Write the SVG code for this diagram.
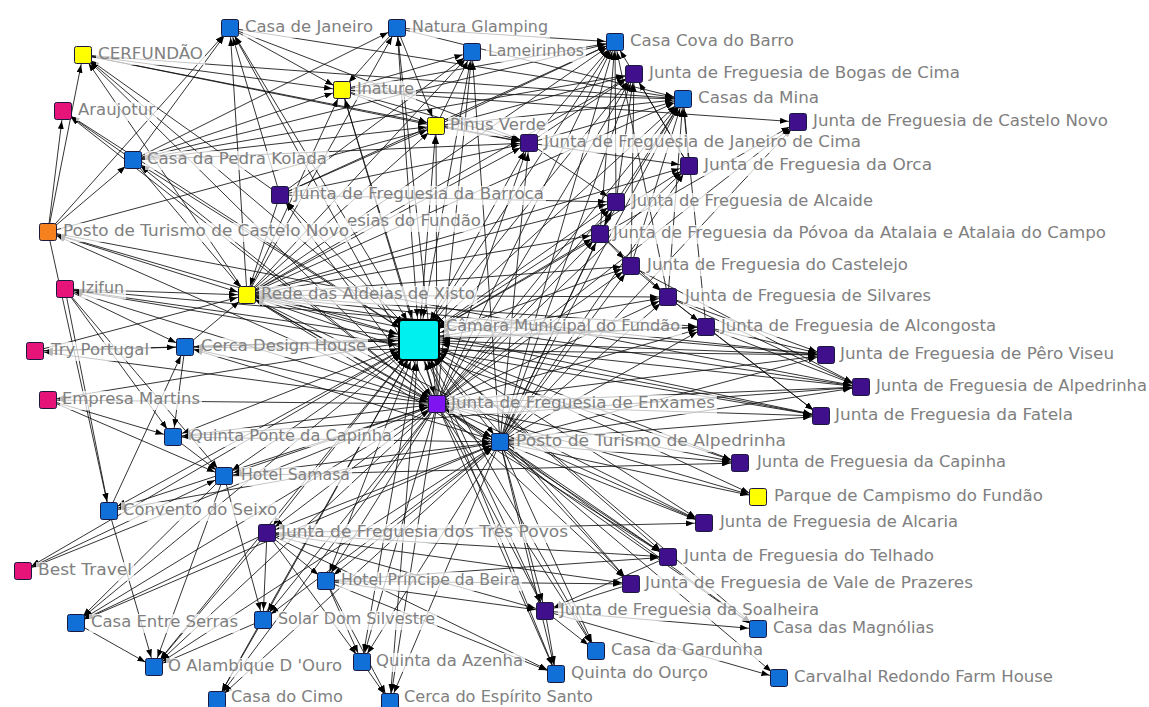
<svg xmlns="http://www.w3.org/2000/svg" width="1149" height="707" viewBox="0 0 1149 707">
<defs>
<style>
.ed line{stroke:#111;stroke-width:1;stroke-opacity:.85;fill:none}
.o line{marker-end:url(#a)}
.b line{marker-start:url(#a);marker-end:url(#a)}
.h line{marker-start:url(#c);marker-end:url(#a)}
.s{stroke:#1a1a40;stroke-width:1}
.bl{fill:#1070d8}
.pu{fill:#40108c}
.vi{fill:#8014f0}
.ye{fill:#ffff00}
.pk{fill:#e61478}
.or{fill:#f5821e}
.cy{fill:#00f0f0}
.lb{fill:#fff;fill-opacity:.72}
text{font-family:"DejaVu Sans","Liberation Sans",sans-serif;font-size:15.5px;fill:#808080}
</style>
<marker id="a" viewBox="0 0 8 6" refX="18" refY="3" markerWidth="8" markerHeight="6" markerUnits="userSpaceOnUse" orient="auto-start-reverse"><path d="M0,0L8,3L0,6z" fill="#000"/></marker>
<marker id="c" viewBox="0 0 8 6" refX="31" refY="3" markerWidth="8" markerHeight="6" markerUnits="userSpaceOnUse" orient="auto-start-reverse"><path d="M0,0L8,3L0,6z" fill="#000"/></marker>
</defs>
<rect x="0" y="0" width="1149" height="707" fill="#fff"/>
<g id="connectors" class="ed">
<g class="h">
<line x1="419" y1="340" x2="230" y2="28"/><line x1="419" y1="340" x2="397" y2="28"/><line x1="419" y1="340" x2="83" y2="55"/><line x1="419" y1="340" x2="472" y2="52"/><line x1="419" y1="340" x2="615" y2="42"/><line x1="419" y1="340" x2="634" y2="74"/><line x1="419" y1="340" x2="342" y2="90"/><line x1="419" y1="340" x2="63" y2="111"/><line x1="419" y1="340" x2="683" y2="99"/><line x1="419" y1="340" x2="436" y2="126"/><line x1="419" y1="340" x2="798" y2="122"/><line x1="419" y1="340" x2="529" y2="143"/><line x1="419" y1="340" x2="133" y2="160"/><line x1="419" y1="340" x2="689" y2="166"/><line x1="419" y1="340" x2="280" y2="195"/><line x1="419" y1="340" x2="616" y2="202"/><line x1="419" y1="340" x2="600" y2="234"/><line x1="419" y1="340" x2="48" y2="232"/><line x1="419" y1="340" x2="631" y2="266"/><line x1="419" y1="340" x2="65" y2="289"/><line x1="419" y1="340" x2="247" y2="295"/><line x1="419" y1="340" x2="668" y2="297"/><line x1="419" y1="340" x2="706" y2="327"/><line x1="419" y1="340" x2="35" y2="351"/><line x1="419" y1="340" x2="185" y2="347"/><line x1="419" y1="340" x2="826" y2="355"/><line x1="419" y1="340" x2="861" y2="387"/><line x1="419" y1="340" x2="48" y2="400"/><line x1="419" y1="340" x2="437" y2="404"/><line x1="419" y1="340" x2="821" y2="416"/><line x1="419" y1="340" x2="173" y2="437"/><line x1="419" y1="340" x2="500" y2="442"/><line x1="419" y1="340" x2="740" y2="463"/><line x1="419" y1="340" x2="224" y2="476"/><line x1="419" y1="340" x2="758" y2="497"/><line x1="419" y1="340" x2="109" y2="511"/><line x1="419" y1="340" x2="704" y2="523"/><line x1="419" y1="340" x2="267" y2="533"/><line x1="419" y1="340" x2="668" y2="557"/><line x1="419" y1="340" x2="23" y2="571"/><line x1="419" y1="340" x2="326" y2="581"/><line x1="419" y1="340" x2="631" y2="584"/><line x1="419" y1="340" x2="545" y2="611"/><line x1="419" y1="340" x2="76" y2="623"/><line x1="419" y1="340" x2="263" y2="620"/><line x1="419" y1="340" x2="758" y2="629"/><line x1="419" y1="340" x2="596" y2="651"/><line x1="419" y1="340" x2="154" y2="667"/><line x1="419" y1="340" x2="362" y2="662"/><line x1="419" y1="340" x2="556" y2="674"/><line x1="419" y1="340" x2="217" y2="700"/><line x1="419" y1="340" x2="390" y2="702"/>
</g>
<g class="o">
<line x1="437" y1="404" x2="826" y2="355"/><line x1="437" y1="404" x2="861" y2="387"/><line x1="437" y1="404" x2="821" y2="416"/><line x1="437" y1="404" x2="740" y2="463"/><line x1="437" y1="404" x2="758" y2="497"/><line x1="437" y1="404" x2="704" y2="523"/><line x1="437" y1="404" x2="668" y2="557"/><line x1="437" y1="404" x2="631" y2="584"/><line x1="437" y1="404" x2="545" y2="611"/><line x1="437" y1="404" x2="668" y2="297"/><line x1="437" y1="404" x2="706" y2="327"/><line x1="437" y1="404" x2="631" y2="266"/><line x1="437" y1="404" x2="600" y2="234"/><line x1="437" y1="404" x2="616" y2="202"/><line x1="437" y1="404" x2="689" y2="166"/><line x1="437" y1="404" x2="529" y2="143"/><line x1="437" y1="404" x2="683" y2="99"/><line x1="437" y1="404" x2="615" y2="42"/><line x1="437" y1="404" x2="634" y2="74"/><line x1="437" y1="404" x2="472" y2="52"/><line x1="437" y1="404" x2="436" y2="126"/><line x1="437" y1="404" x2="342" y2="90"/><line x1="437" y1="404" x2="230" y2="28"/><line x1="437" y1="404" x2="397" y2="28"/><line x1="437" y1="404" x2="83" y2="55"/><line x1="437" y1="404" x2="596" y2="651"/><line x1="437" y1="404" x2="556" y2="674"/><line x1="437" y1="404" x2="758" y2="629"/><line x1="437" y1="404" x2="390" y2="702"/><line x1="437" y1="404" x2="217" y2="700"/><line x1="437" y1="404" x2="362" y2="662"/><line x1="437" y1="404" x2="154" y2="667"/><line x1="437" y1="404" x2="263" y2="620"/><line x1="437" y1="404" x2="326" y2="581"/><line x1="437" y1="404" x2="109" y2="511"/><line x1="437" y1="404" x2="48" y2="400"/><line x1="437" y1="404" x2="35" y2="351"/><line x1="437" y1="404" x2="65" y2="289"/><line x1="437" y1="404" x2="76" y2="623"/><line x1="437" y1="404" x2="23" y2="571"/><line x1="437" y1="404" x2="63" y2="111"/><line x1="437" y1="404" x2="798" y2="122"/>
<line x1="500" y1="442" x2="740" y2="463"/><line x1="500" y1="442" x2="758" y2="497"/><line x1="500" y1="442" x2="704" y2="523"/><line x1="500" y1="442" x2="668" y2="557"/><line x1="500" y1="442" x2="631" y2="584"/><line x1="500" y1="442" x2="545" y2="611"/><line x1="500" y1="442" x2="596" y2="651"/><line x1="500" y1="442" x2="556" y2="674"/><line x1="500" y1="442" x2="758" y2="629"/><line x1="500" y1="442" x2="821" y2="416"/><line x1="500" y1="442" x2="861" y2="387"/><line x1="500" y1="442" x2="826" y2="355"/><line x1="500" y1="442" x2="706" y2="327"/><line x1="500" y1="442" x2="668" y2="297"/><line x1="500" y1="442" x2="631" y2="266"/><line x1="500" y1="442" x2="600" y2="234"/><line x1="500" y1="442" x2="616" y2="202"/><line x1="500" y1="442" x2="529" y2="143"/><line x1="500" y1="442" x2="689" y2="166"/><line x1="500" y1="442" x2="683" y2="99"/><line x1="500" y1="442" x2="615" y2="42"/><line x1="500" y1="442" x2="634" y2="74"/><line x1="500" y1="442" x2="362" y2="662"/><line x1="500" y1="442" x2="390" y2="702"/><line x1="500" y1="442" x2="109" y2="511"/><line x1="500" y1="442" x2="217" y2="700"/><line x1="500" y1="442" x2="779" y2="678"/><line x1="500" y1="442" x2="472" y2="52"/><line x1="500" y1="442" x2="798" y2="122"/>
<line x1="247" y1="295" x2="529" y2="143"/><line x1="247" y1="295" x2="616" y2="202"/><line x1="247" y1="295" x2="600" y2="234"/><line x1="247" y1="295" x2="631" y2="266"/><line x1="247" y1="295" x2="668" y2="297"/><line x1="247" y1="295" x2="706" y2="327"/><line x1="247" y1="295" x2="826" y2="355"/><line x1="247" y1="295" x2="861" y2="387"/><line x1="247" y1="295" x2="821" y2="416"/><line x1="247" y1="295" x2="683" y2="99"/><line x1="247" y1="295" x2="615" y2="42"/><line x1="247" y1="295" x2="634" y2="74"/><line x1="247" y1="295" x2="689" y2="166"/><line x1="247" y1="295" x2="472" y2="52"/><line x1="247" y1="295" x2="436" y2="126"/><line x1="247" y1="295" x2="342" y2="90"/><line x1="247" y1="295" x2="230" y2="28"/><line x1="247" y1="295" x2="397" y2="28"/><line x1="247" y1="295" x2="83" y2="55"/><line x1="247" y1="295" x2="740" y2="463"/><line x1="247" y1="295" x2="668" y2="557"/><line x1="247" y1="295" x2="704" y2="523"/>
<line x1="48" y1="232" x2="247" y2="295"/><line x1="65" y1="289" x2="247" y2="295"/><line x1="133" y1="160" x2="247" y2="295"/><line x1="185" y1="347" x2="247" y2="295"/><line x1="280" y1="195" x2="247" y2="295"/><line x1="35" y1="351" x2="247" y2="295"/>
<line x1="616" y1="202" x2="600" y2="234"/><line x1="600" y1="234" x2="631" y2="266"/><line x1="631" y1="266" x2="668" y2="297"/><line x1="668" y1="297" x2="706" y2="327"/><line x1="706" y1="327" x2="826" y2="355"/><line x1="706" y1="327" x2="861" y2="387"/><line x1="706" y1="327" x2="821" y2="416"/><line x1="668" y1="297" x2="826" y2="355"/><line x1="668" y1="297" x2="861" y2="387"/><line x1="668" y1="297" x2="821" y2="416"/><line x1="631" y1="266" x2="861" y2="387"/><line x1="600" y1="234" x2="668" y2="297"/>
<line x1="529" y1="143" x2="615" y2="42"/><line x1="529" y1="143" x2="683" y2="99"/><line x1="529" y1="143" x2="634" y2="74"/><line x1="529" y1="143" x2="689" y2="166"/><line x1="529" y1="143" x2="616" y2="202"/><line x1="689" y1="166" x2="683" y2="99"/><line x1="689" y1="166" x2="615" y2="42"/><line x1="689" y1="166" x2="634" y2="74"/><line x1="616" y1="202" x2="615" y2="42"/><line x1="616" y1="202" x2="683" y2="99"/><line x1="616" y1="202" x2="634" y2="74"/><line x1="600" y1="234" x2="683" y2="99"/><line x1="600" y1="234" x2="615" y2="42"/><line x1="631" y1="266" x2="683" y2="99"/><line x1="631" y1="266" x2="634" y2="74"/><line x1="668" y1="297" x2="683" y2="99"/><line x1="668" y1="297" x2="615" y2="42"/><line x1="706" y1="327" x2="683" y2="99"/>
<line x1="280" y1="195" x2="529" y2="143"/><line x1="280" y1="195" x2="83" y2="55"/><line x1="280" y1="195" x2="230" y2="28"/><line x1="280" y1="195" x2="436" y2="126"/><line x1="280" y1="195" x2="472" y2="52"/><line x1="280" y1="195" x2="615" y2="42"/><line x1="280" y1="195" x2="616" y2="202"/>
<line x1="436" y1="126" x2="529" y2="143"/><line x1="436" y1="126" x2="472" y2="52"/><line x1="436" y1="126" x2="683" y2="99"/><line x1="436" y1="126" x2="615" y2="42"/><line x1="342" y1="90" x2="436" y2="126"/><line x1="342" y1="90" x2="472" y2="52"/><line x1="342" y1="90" x2="615" y2="42"/><line x1="342" y1="90" x2="683" y2="99"/><line x1="342" y1="90" x2="798" y2="122"/><line x1="342" y1="90" x2="529" y2="143"/><line x1="397" y1="28" x2="342" y2="90"/><line x1="397" y1="28" x2="683" y2="99"/><line x1="397" y1="28" x2="615" y2="42"/><line x1="397" y1="28" x2="436" y2="126"/><line x1="230" y1="28" x2="342" y2="90"/><line x1="230" y1="28" x2="683" y2="99"/><line x1="230" y1="28" x2="529" y2="143"/><line x1="83" y1="55" x2="342" y2="90"/><line x1="83" y1="55" x2="529" y2="143"/><line x1="83" y1="55" x2="683" y2="99"/><line x1="83" y1="55" x2="436" y2="126"/>
<line x1="133" y1="160" x2="230" y2="28"/><line x1="133" y1="160" x2="397" y2="28"/><line x1="133" y1="160" x2="342" y2="90"/><line x1="133" y1="160" x2="436" y2="126"/><line x1="133" y1="160" x2="529" y2="143"/><line x1="133" y1="160" x2="63" y2="111"/><line x1="133" y1="160" x2="615" y2="42"/><line x1="133" y1="160" x2="634" y2="74"/>
<line x1="48" y1="232" x2="83" y2="55"/><line x1="48" y1="232" x2="230" y2="28"/><line x1="48" y1="232" x2="63" y2="111"/><line x1="48" y1="232" x2="634" y2="74"/><line x1="48" y1="232" x2="861" y2="387"/><line x1="48" y1="232" x2="109" y2="511"/><line x1="48" y1="232" x2="133" y2="160"/>
<line x1="65" y1="289" x2="185" y2="347"/><line x1="65" y1="289" x2="224" y2="476"/><line x1="65" y1="289" x2="173" y2="437"/><line x1="65" y1="289" x2="821" y2="416"/><line x1="65" y1="289" x2="826" y2="355"/><line x1="65" y1="289" x2="109" y2="511"/><line x1="35" y1="351" x2="185" y2="347"/><line x1="48" y1="400" x2="224" y2="476"/><line x1="48" y1="400" x2="173" y2="437"/><line x1="185" y1="347" x2="173" y2="437"/><line x1="109" y1="511" x2="185" y2="347"/><line x1="185" y1="347" x2="826" y2="355"/><line x1="185" y1="347" x2="706" y2="327"/><line x1="173" y1="437" x2="861" y2="387"/><line x1="173" y1="437" x2="224" y2="476"/>
<line x1="224" y1="476" x2="154" y2="667"/><line x1="224" y1="476" x2="76" y2="623"/><line x1="224" y1="476" x2="263" y2="620"/><line x1="224" y1="476" x2="740" y2="463"/><line x1="267" y1="533" x2="76" y2="623"/><line x1="267" y1="533" x2="154" y2="667"/><line x1="267" y1="533" x2="263" y2="620"/><line x1="267" y1="533" x2="326" y2="581"/><line x1="267" y1="533" x2="362" y2="662"/><line x1="267" y1="533" x2="545" y2="611"/><line x1="267" y1="533" x2="556" y2="674"/><line x1="267" y1="533" x2="668" y2="557"/><line x1="267" y1="533" x2="631" y2="584"/><line x1="267" y1="533" x2="704" y2="523"/>
<line x1="76" y1="623" x2="154" y2="667"/><line x1="263" y1="620" x2="217" y2="700"/><line x1="263" y1="620" x2="154" y2="667"/><line x1="362" y1="662" x2="390" y2="702"/><line x1="326" y1="581" x2="390" y2="702"/><line x1="326" y1="581" x2="362" y2="662"/><line x1="326" y1="581" x2="545" y2="611"/><line x1="326" y1="581" x2="556" y2="674"/><line x1="326" y1="581" x2="668" y2="557"/><line x1="326" y1="581" x2="631" y2="584"/>
<line x1="545" y1="611" x2="596" y2="651"/><line x1="545" y1="611" x2="556" y2="674"/><line x1="545" y1="611" x2="779" y2="678"/><line x1="545" y1="611" x2="758" y2="629"/><line x1="668" y1="557" x2="545" y2="611"/><line x1="631" y1="584" x2="545" y2="611"/><line x1="23" y1="571" x2="224" y2="476"/><line x1="109" y1="511" x2="154" y2="667"/>
</g>
<g class="b">
<line x1="437" y1="404" x2="48" y2="232"/><line x1="437" y1="404" x2="247" y2="295"/><line x1="437" y1="404" x2="185" y2="347"/><line x1="437" y1="404" x2="173" y2="437"/><line x1="437" y1="404" x2="224" y2="476"/><line x1="437" y1="404" x2="267" y2="533"/><line x1="437" y1="404" x2="280" y2="195"/><line x1="437" y1="404" x2="133" y2="160"/><line x1="437" y1="404" x2="500" y2="442"/>
<line x1="500" y1="442" x2="326" y2="581"/><line x1="500" y1="442" x2="267" y2="533"/><line x1="500" y1="442" x2="263" y2="620"/><line x1="500" y1="442" x2="224" y2="476"/><line x1="500" y1="442" x2="173" y2="437"/><line x1="500" y1="442" x2="185" y2="347"/><line x1="500" y1="442" x2="247" y2="295"/><line x1="500" y1="442" x2="154" y2="667"/><line x1="500" y1="442" x2="76" y2="623"/>
</g>
</g>
<g id="n-casa-janeiro"><rect class="lb" x="243" y="19" width="132" height="19"/><rect class="s bl" x="221.5" y="19.5" width="17" height="17" rx="2"/><text x="245" y="32" textLength="128" lengthAdjust="spacingAndGlyphs">Casa de Janeiro</text></g>
<g id="n-natura"><rect class="lb" x="410" y="19" width="140" height="19"/><rect class="s bl" x="388.5" y="19.5" width="17" height="17" rx="2"/><text x="412" y="32" textLength="136" lengthAdjust="spacingAndGlyphs">Natura Glamping</text></g>
<g id="n-cerfundao"><rect class="lb" x="96" y="46" width="109" height="19"/><rect class="s ye" x="74.5" y="46.5" width="17" height="17" rx="2"/><text x="98" y="59" textLength="105" lengthAdjust="spacingAndGlyphs">CERFUNDÃO</text></g>
<g id="n-lameirinhos"><rect class="lb" x="486" y="43" width="100" height="19"/><rect class="s bl" x="463.5" y="43.5" width="17" height="17" rx="2"/><text x="488" y="56" textLength="96" lengthAdjust="spacingAndGlyphs">Lameirinhos</text></g>
<g id="n-casa-cova"><rect class="lb" x="628" y="33" width="168" height="19"/><rect class="s bl" x="606.5" y="33.5" width="17" height="17" rx="2"/><text x="630" y="46" textLength="164" lengthAdjust="spacingAndGlyphs">Casa Cova do Barro</text></g>
<g id="n-jf-bogas"><rect class="lb" x="647" y="65" width="315" height="19"/><rect class="s pu" x="625.5" y="65.5" width="17" height="17" rx="2"/><text x="649" y="78" textLength="311" lengthAdjust="spacingAndGlyphs">Junta de Freguesia de Bogas de Cima</text></g>
<g id="n-inature"><rect class="lb" x="355" y="81" width="61" height="19"/><rect class="s ye" x="333.5" y="81.5" width="17" height="17" rx="2"/><text x="357" y="94" textLength="57" lengthAdjust="spacingAndGlyphs">Inature</text></g>
<g id="n-araujotur"><rect class="lb" x="76" y="102" width="81" height="19"/><rect class="s pk" x="54.5" y="102.5" width="17" height="17" rx="2"/><text x="78" y="115" textLength="77" lengthAdjust="spacingAndGlyphs">Araujotur</text></g>
<g id="n-casas-mina"><rect class="lb" x="696" y="90" width="125" height="19"/><rect class="s bl" x="674.5" y="90.5" width="17" height="17" rx="2"/><text x="698" y="103" textLength="121" lengthAdjust="spacingAndGlyphs">Casas da Mina</text></g>
<g id="n-pinus"><rect class="lb" x="448" y="117" width="100" height="19"/><rect class="s ye" x="427.5" y="117.5" width="17" height="17" rx="2"/><text x="450" y="130" textLength="96" lengthAdjust="spacingAndGlyphs">Pinus Verde</text></g>
<g id="n-jf-castelo-novo"><rect class="lb" x="811" y="113" width="299" height="19"/><rect class="s pu" x="789.5" y="113.5" width="17" height="17" rx="2"/><text x="813" y="126" textLength="295" lengthAdjust="spacingAndGlyphs">Junta de Freguesia de Castelo Novo</text></g>
<g id="n-jf-janeiro-cima"><rect class="lb" x="542" y="134" width="321" height="19"/><rect class="s pu" x="520.5" y="134.5" width="17" height="17" rx="2"/><text x="544" y="147" textLength="317" lengthAdjust="spacingAndGlyphs">Junta de Freguesia de Janeiro de Cima</text></g>
<g id="n-pedra-kolada"><rect class="lb" x="145" y="151" width="184" height="19"/><rect class="s bl" x="124.5" y="151.5" width="17" height="17" rx="2"/><text x="147" y="164" textLength="180" lengthAdjust="spacingAndGlyphs">Casa da Pedra Kolada</text></g>
<g id="n-jf-orca"><rect class="lb" x="702" y="157" width="232" height="19"/><rect class="s pu" x="680.5" y="157.5" width="17" height="17" rx="2"/><text x="704" y="170" textLength="228" lengthAdjust="spacingAndGlyphs">Junta de Freguesia da Orca</text></g>
<g id="n-jf-barroca"><rect class="lb" x="292" y="186" width="254" height="19"/><rect class="s pu" x="271.5" y="186.5" width="17" height="17" rx="2"/><text x="294" y="199" textLength="250" lengthAdjust="spacingAndGlyphs">Junta de Freguesia da Barroca</text></g>
<g id="n-jf-alcaide"><rect class="lb" x="630" y="193" width="245" height="19"/><rect class="s pu" x="607.5" y="193.5" width="17" height="17" rx="2"/><text x="632" y="206" textLength="241" lengthAdjust="spacingAndGlyphs">Junta de Freguesia de Alcaide</text></g>
<g id="n-freguesias-fundao"><rect class="lb" x="345" y="213" width="138" height="19"/><text x="347" y="226" textLength="134" lengthAdjust="spacingAndGlyphs">esias do Fundão</text></g>
<g id="n-jf-povoa"><rect class="lb" x="611" y="225" width="497" height="19"/><rect class="s pu" x="591.5" y="225.5" width="17" height="17" rx="2"/><text x="613" y="238" textLength="493" lengthAdjust="spacingAndGlyphs">Junta de Freguesia da Póvoa da Atalaia e Atalaia do Campo</text></g>
<g id="n-posto-castelo-novo"><rect class="lb" x="61" y="223" width="290" height="19"/><rect class="s or" x="39.5" y="223.5" width="17" height="17" rx="2"/><text x="63" y="236" textLength="286" lengthAdjust="spacingAndGlyphs">Posto de Turismo de Castelo Novo</text></g>
<g id="n-jf-castelejo"><rect class="lb" x="645" y="257" width="265" height="19"/><rect class="s pu" x="622.5" y="257.5" width="17" height="17" rx="2"/><text x="647" y="270" textLength="261" lengthAdjust="spacingAndGlyphs">Junta de Freguesia do Castelejo</text></g>
<g id="n-izifun"><rect class="lb" x="79" y="280" width="47" height="19"/><rect class="s pk" x="56.5" y="280.5" width="17" height="17" rx="2"/><text x="81" y="293" textLength="43" lengthAdjust="spacingAndGlyphs">Izifun</text></g>
<g id="n-rede-aldeias"><rect class="lb" x="259" y="286" width="218" height="19"/><rect class="s ye" x="238.5" y="286.5" width="17" height="17" rx="2"/><text x="261" y="299" textLength="214" lengthAdjust="spacingAndGlyphs">Rede das Aldeias de Xisto</text></g>
<g id="n-jf-silvares"><rect class="lb" x="683" y="288" width="250" height="19"/><rect class="s pu" x="659.5" y="288.5" width="17" height="17" rx="2"/><text x="685" y="301" textLength="246" lengthAdjust="spacingAndGlyphs">Junta de Freguesia de Silvares</text></g>
<g id="n-camara"><rect class="lb" x="444" y="318" width="238" height="19"/><rect x="399" y="320" width="40" height="40" rx="3" fill="#00f0f0" stroke="#000" stroke-width="2"/><text x="446" y="331" textLength="234" lengthAdjust="spacingAndGlyphs">Câmara Municipal do Fundão</text></g>
<g id="n-jf-alcongosta"><rect class="lb" x="719" y="318" width="279" height="19"/><rect class="s pu" x="697.5" y="318.5" width="17" height="17" rx="2"/><text x="721" y="331" textLength="275" lengthAdjust="spacingAndGlyphs">Junta de Freguesia de Alcongosta</text></g>
<g id="n-try-portugal"><rect class="lb" x="49" y="342" width="102" height="19"/><rect class="s pk" x="26.5" y="342.5" width="17" height="17" rx="2"/><text x="51" y="355" textLength="98" lengthAdjust="spacingAndGlyphs">Try Portugal</text></g>
<g id="n-cerca-design"><rect class="lb" x="199" y="338" width="169" height="19"/><rect class="s bl" x="176.5" y="338.5" width="17" height="17" rx="2"/><text x="201" y="351" textLength="165" lengthAdjust="spacingAndGlyphs">Cerca Design House</text></g>
<g id="n-jf-pero-viseu"><rect class="lb" x="838" y="346" width="278" height="19"/><rect class="s pu" x="817.5" y="346.5" width="17" height="17" rx="2"/><text x="840" y="359" textLength="274" lengthAdjust="spacingAndGlyphs">Junta de Freguesia de Pêro Viseu</text></g>
<g id="n-jf-alpedrinha"><rect class="lb" x="874" y="378" width="275" height="19"/><rect class="s pu" x="852.5" y="378.5" width="17" height="17" rx="2"/><text x="876" y="391" textLength="271" lengthAdjust="spacingAndGlyphs">Junta de Freguesia de Alpedrinha</text></g>
<g id="n-empresa-martins"><rect class="lb" x="60" y="391" width="142" height="19"/><rect class="s pk" x="39.5" y="391.5" width="17" height="17" rx="2"/><text x="62" y="404" textLength="138" lengthAdjust="spacingAndGlyphs">Empresa Martins</text></g>
<g id="n-jf-enxames"><rect class="lb" x="449" y="395" width="268" height="19"/><rect class="s vi" x="428.5" y="395.5" width="17" height="17" rx="2"/><text x="451" y="408" textLength="264" lengthAdjust="spacingAndGlyphs">Junta de Freguesia de Enxames</text></g>
<g id="n-jf-fatela"><rect class="lb" x="833" y="407" width="242" height="19"/><rect class="s pu" x="812.5" y="407.5" width="17" height="17" rx="2"/><text x="835" y="420" textLength="238" lengthAdjust="spacingAndGlyphs">Junta de Freguesia da Fatela</text></g>
<g id="n-quinta-ponte"><rect class="lb" x="188" y="428" width="206" height="19"/><rect class="s bl" x="164.5" y="428.5" width="17" height="17" rx="2"/><text x="190" y="441" textLength="202" lengthAdjust="spacingAndGlyphs">Quinta Ponte da Capinha</text></g>
<g id="n-posto-alpedrinha"><rect class="lb" x="514" y="433" width="274" height="19"/><rect class="s bl" x="491.5" y="433.5" width="17" height="17" rx="2"/><text x="516" y="446" textLength="270" lengthAdjust="spacingAndGlyphs">Posto de Turismo de Alpedrinha</text></g>
<g id="n-jf-capinha"><rect class="lb" x="755" y="454" width="253" height="19"/><rect class="s pu" x="731.5" y="454.5" width="17" height="17" rx="2"/><text x="757" y="467" textLength="249" lengthAdjust="spacingAndGlyphs">Junta de Freguesia da Capinha</text></g>
<g id="n-hotel-samasa"><rect class="lb" x="239" y="467" width="113" height="19"/><rect class="s bl" x="215.5" y="467.5" width="17" height="17" rx="2"/><text x="241" y="480" textLength="109" lengthAdjust="spacingAndGlyphs">Hotel Samasa</text></g>
<g id="n-parque-campismo"><rect class="lb" x="772" y="488" width="273" height="19"/><rect class="s ye" x="749.5" y="488.5" width="17" height="17" rx="2"/><text x="774" y="501" textLength="269" lengthAdjust="spacingAndGlyphs">Parque de Campismo do Fundão</text></g>
<g id="n-convento-seixo"><rect class="lb" x="121" y="502" width="158" height="19"/><rect class="s bl" x="100.5" y="502.5" width="17" height="17" rx="2"/><text x="123" y="515" textLength="154" lengthAdjust="spacingAndGlyphs">Convento do Seixo</text></g>
<g id="n-jf-alcaria"><rect class="lb" x="718" y="514" width="242" height="19"/><rect class="s pu" x="695.5" y="514.5" width="17" height="17" rx="2"/><text x="720" y="527" textLength="238" lengthAdjust="spacingAndGlyphs">Junta de Freguesia de Alcaria</text></g>
<g id="n-jf-tres-povos"><rect class="lb" x="279" y="524" width="291" height="19"/><rect class="s pu" x="258.5" y="524.5" width="17" height="17" rx="2"/><text x="281" y="537" textLength="287" lengthAdjust="spacingAndGlyphs">Junta de Freguesia dos Três Povos</text></g>
<g id="n-jf-telhado"><rect class="lb" x="682" y="548" width="254" height="19"/><rect class="s pu" x="659.5" y="548.5" width="17" height="17" rx="2"/><text x="684" y="561" textLength="250" lengthAdjust="spacingAndGlyphs">Junta de Freguesia do Telhado</text></g>
<g id="n-best-travel"><rect class="lb" x="36" y="562" width="98" height="19"/><rect class="s pk" x="14.5" y="562.5" width="17" height="17" rx="2"/><text x="38" y="575" textLength="94" lengthAdjust="spacingAndGlyphs">Best Travel</text></g>
<g id="n-hotel-principe"><rect class="lb" x="339" y="572" width="183" height="19"/><rect class="s bl" x="317.5" y="572.5" width="17" height="17" rx="2"/><text x="341" y="585" textLength="179" lengthAdjust="spacingAndGlyphs">Hotel Príncipe da Beira</text></g>
<g id="n-jf-vale-prazeres"><rect class="lb" x="643" y="575" width="332" height="19"/><rect class="s pu" x="622.5" y="575.5" width="17" height="17" rx="2"/><text x="645" y="588" textLength="328" lengthAdjust="spacingAndGlyphs">Junta de Freguesia de Vale de Prazeres</text></g>
<g id="n-jf-soalheira"><rect class="lb" x="558" y="602" width="263" height="19"/><rect class="s pu" x="536.5" y="602.5" width="17" height="17" rx="2"/><text x="560" y="615" textLength="259" lengthAdjust="spacingAndGlyphs">Junta de Freguesia da Soalheira</text></g>
<g id="n-casa-entre-serras"><rect class="lb" x="89" y="614" width="151" height="19"/><rect class="s bl" x="67.5" y="614.5" width="17" height="17" rx="2"/><text x="91" y="627" textLength="147" lengthAdjust="spacingAndGlyphs">Casa Entre Serras</text></g>
<g id="n-solar-dom-silvestre"><rect class="lb" x="276" y="611" width="161" height="19"/><rect class="s bl" x="254.5" y="611.5" width="17" height="17" rx="2"/><text x="278" y="624" textLength="157" lengthAdjust="spacingAndGlyphs">Solar Dom Silvestre</text></g>
<g id="n-casa-magnolias"><rect class="lb" x="771" y="620" width="165" height="19"/><rect class="s bl" x="749.5" y="620.5" width="17" height="17" rx="2"/><text x="773" y="633" textLength="161" lengthAdjust="spacingAndGlyphs">Casa das Magnólias</text></g>
<g id="n-casa-gardunha"><rect class="lb" x="609" y="642" width="156" height="19"/><rect class="s bl" x="587.5" y="642.5" width="17" height="17" rx="2"/><text x="611" y="655" textLength="152" lengthAdjust="spacingAndGlyphs">Casa da Gardunha</text></g>
<g id="n-alambique"><rect class="lb" x="166" y="658" width="178" height="19"/><rect class="s bl" x="145.5" y="658.5" width="17" height="17" rx="2"/><text x="168" y="671" textLength="174" lengthAdjust="spacingAndGlyphs">O Alambique D 'Ouro</text></g>
<g id="n-quinta-azenha"><rect class="lb" x="374" y="653" width="151" height="19"/><rect class="s bl" x="353.5" y="653.5" width="17" height="17" rx="2"/><text x="376" y="666" textLength="147" lengthAdjust="spacingAndGlyphs">Quinta da Azenha</text></g>
<g id="n-quinta-ourco"><rect class="lb" x="569" y="665" width="141" height="19"/><rect class="s bl" x="547.5" y="665.5" width="17" height="17" rx="2"/><text x="571" y="678" textLength="137" lengthAdjust="spacingAndGlyphs">Quinta do Ourço</text></g>
<g id="n-carvalhal"><rect class="lb" x="792" y="669" width="263" height="19"/><rect class="s bl" x="770.5" y="669.5" width="17" height="17" rx="2"/><text x="794" y="682" textLength="259" lengthAdjust="spacingAndGlyphs">Carvalhal Redondo Farm House</text></g>
<g id="n-casa-cimo"><rect class="lb" x="229" y="689" width="116" height="18"/><rect class="s bl" x="208.5" y="691.5" width="17" height="17" rx="2"/><text x="231" y="702" textLength="112" lengthAdjust="spacingAndGlyphs">Casa do Cimo</text></g>
<g id="n-cerca-espirito-santo"><rect class="lb" x="402" y="689" width="193" height="18"/><rect class="s bl" x="381.5" y="693.5" width="17" height="17" rx="2"/><text x="404" y="702" textLength="189" lengthAdjust="spacingAndGlyphs">Cerca do Espírito Santo</text></g>
</svg>
